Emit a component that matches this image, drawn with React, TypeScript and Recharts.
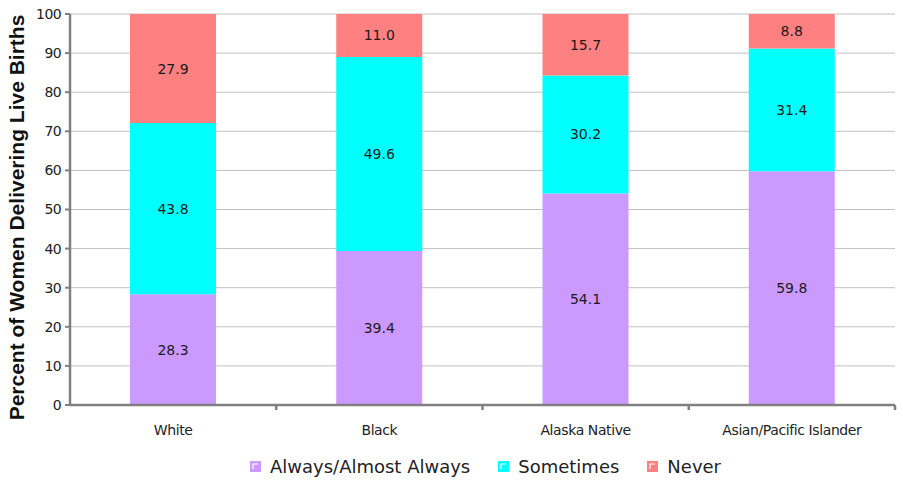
import React from 'react';
import {
  BarChart,
  Bar,
  XAxis,
  YAxis,
  CartesianGrid,
  Legend,
  LabelList,
} from 'recharts';

const categories = ['White', 'Black', 'Alaska Native', 'Asian/Pacific Islander'];
const alwaysValues = [28.3, 39.4, 54.1, 59.8];
const sometimesValues = [43.8, 49.6, 30.2, 31.4];
const neverValues = [27.9, 11.0, 15.7, 8.8];
const yTicks = [0, 10, 20, 30, 40, 50, 60, 70, 80, 90, 100];

const SERIES = [
  { key: 'always', name: 'Always/Almost Always', color: '#CC99FF' },
  { key: 'sometimes', name: 'Sometimes', color: '#00FFFF' },
  { key: 'never', name: 'Never', color: '#FF8080' },
];

const data = categories.map((category, i) => ({
  category,
  always: alwaysValues[i],
  sometimes: sometimesValues[i],
  never: neverValues[i],
}));

const WIDTH = 903;
const HEIGHT = 481;
const MARGIN = { top: 14, right: 8, left: 10, bottom: 0 };
const Y_AXIS_WIDTH = 60;
const AXIS_COLOR = '#808080';
const FONT = '"DejaVu Sans", sans-serif';

const plotWidth = WIDTH - MARGIN.left - MARGIN.right - Y_AXIS_WIDTH;
const halfBand = plotWidth / categories.length / 2;

// category tick: label centred, tick mark on the right boundary of the band
const CategoryTick = (props: any) => {
  const { x, y, payload } = props;
  const axisY = y - 14;
  return (
    <g>
      <line x1={x + halfBand} y1={axisY} x2={x + halfBand} y2={axisY + 5} stroke={AXIS_COLOR} strokeWidth={2.5} />
      <text x={x} y={y} dy={16} textAnchor="middle" fill="#222" fontSize={14} letterSpacing={-0.4} fontFamily={FONT}>
        {payload.value}
      </text>
    </g>
  );
};

const LegendContent = () => (
  <div
    style={{
      display: 'flex',
      justifyContent: 'center',
      alignItems: 'center',
      gap: 28,
      paddingLeft: 66,
      fontFamily: FONT,
      fontSize: 18,
      color: '#222',
      height: 30,
    }}
  >
    {SERIES.map((s) => (
      <div key={s.key} style={{ display: 'flex', alignItems: 'center', gap: 9 }}>
        <svg width={11} height={11}>
          <rect x={0} y={0} width={11} height={11} fill={s.color} />
          <path d="M3 8 V3 H8" stroke="#fff" strokeWidth={1.2} fill="none" />
        </svg>
        <span>{s.name}</span>
      </div>
    ))}
  </div>
);

const YLabel = (props: any) => {
  const { viewBox } = props;
  const cx = viewBox.x + 6;
  const cy = viewBox.y + viewBox.height / 2 + 8;
  return (
    <text
      x={cx}
      y={cy}
      transform={`rotate(-90, ${cx}, ${cy})`}
      textAnchor="middle"
      dominantBaseline="central"
      fontFamily='"Liberation Sans", Arial, sans-serif'
      fontWeight="bold"
      fontSize={21}
      fill="#111"
    >
      Percent of Women Delivering Live Births
    </text>
  );
};

export default function App() {
  return (
    <div style={{ position: 'absolute', left: 0, top: 0, background: '#fff' }}>
      <BarChart width={WIDTH} height={HEIGHT} data={data} margin={MARGIN} barSize={86}>
        <CartesianGrid vertical={false} stroke="#C0C0C0" strokeWidth={1} />
        <XAxis
          dataKey="category"
          height={46}
          axisLine={{ stroke: AXIS_COLOR, strokeWidth: 2.5 }}
          tickLine={false}
          tickSize={6}
          tickMargin={8}
          tick={<CategoryTick />}
          interval={0}
        />
        <YAxis
          width={Y_AXIS_WIDTH}
          domain={[0, 100]}
          ticks={yTicks}
          interval={0}
          axisLine={{ stroke: AXIS_COLOR, strokeWidth: 2.5 }}
          tickLine={{ stroke: AXIS_COLOR, strokeWidth: 2 }}
          tickSize={5}
          tickMargin={4}
          tick={{ fill: '#222', fontSize: 14, fontFamily: FONT, letterSpacing: -0.6 }}
          label={<YLabel />}
        />
        <Legend verticalAlign="bottom" height={30} content={<LegendContent />} />
        {SERIES.map((s) => (
          <Bar key={s.key} dataKey={s.key} name={s.name} stackId="a" fill={s.color} isAnimationActive={false}>
            <LabelList
              dataKey={s.key}
              position="center"
              formatter={(v: any) => Number(v).toFixed(1)}
              style={{ fill: '#1a1a1a', fontSize: 14, fontFamily: FONT }}
            />
          </Bar>
        ))}
      </BarChart>
    </div>
  );
}
